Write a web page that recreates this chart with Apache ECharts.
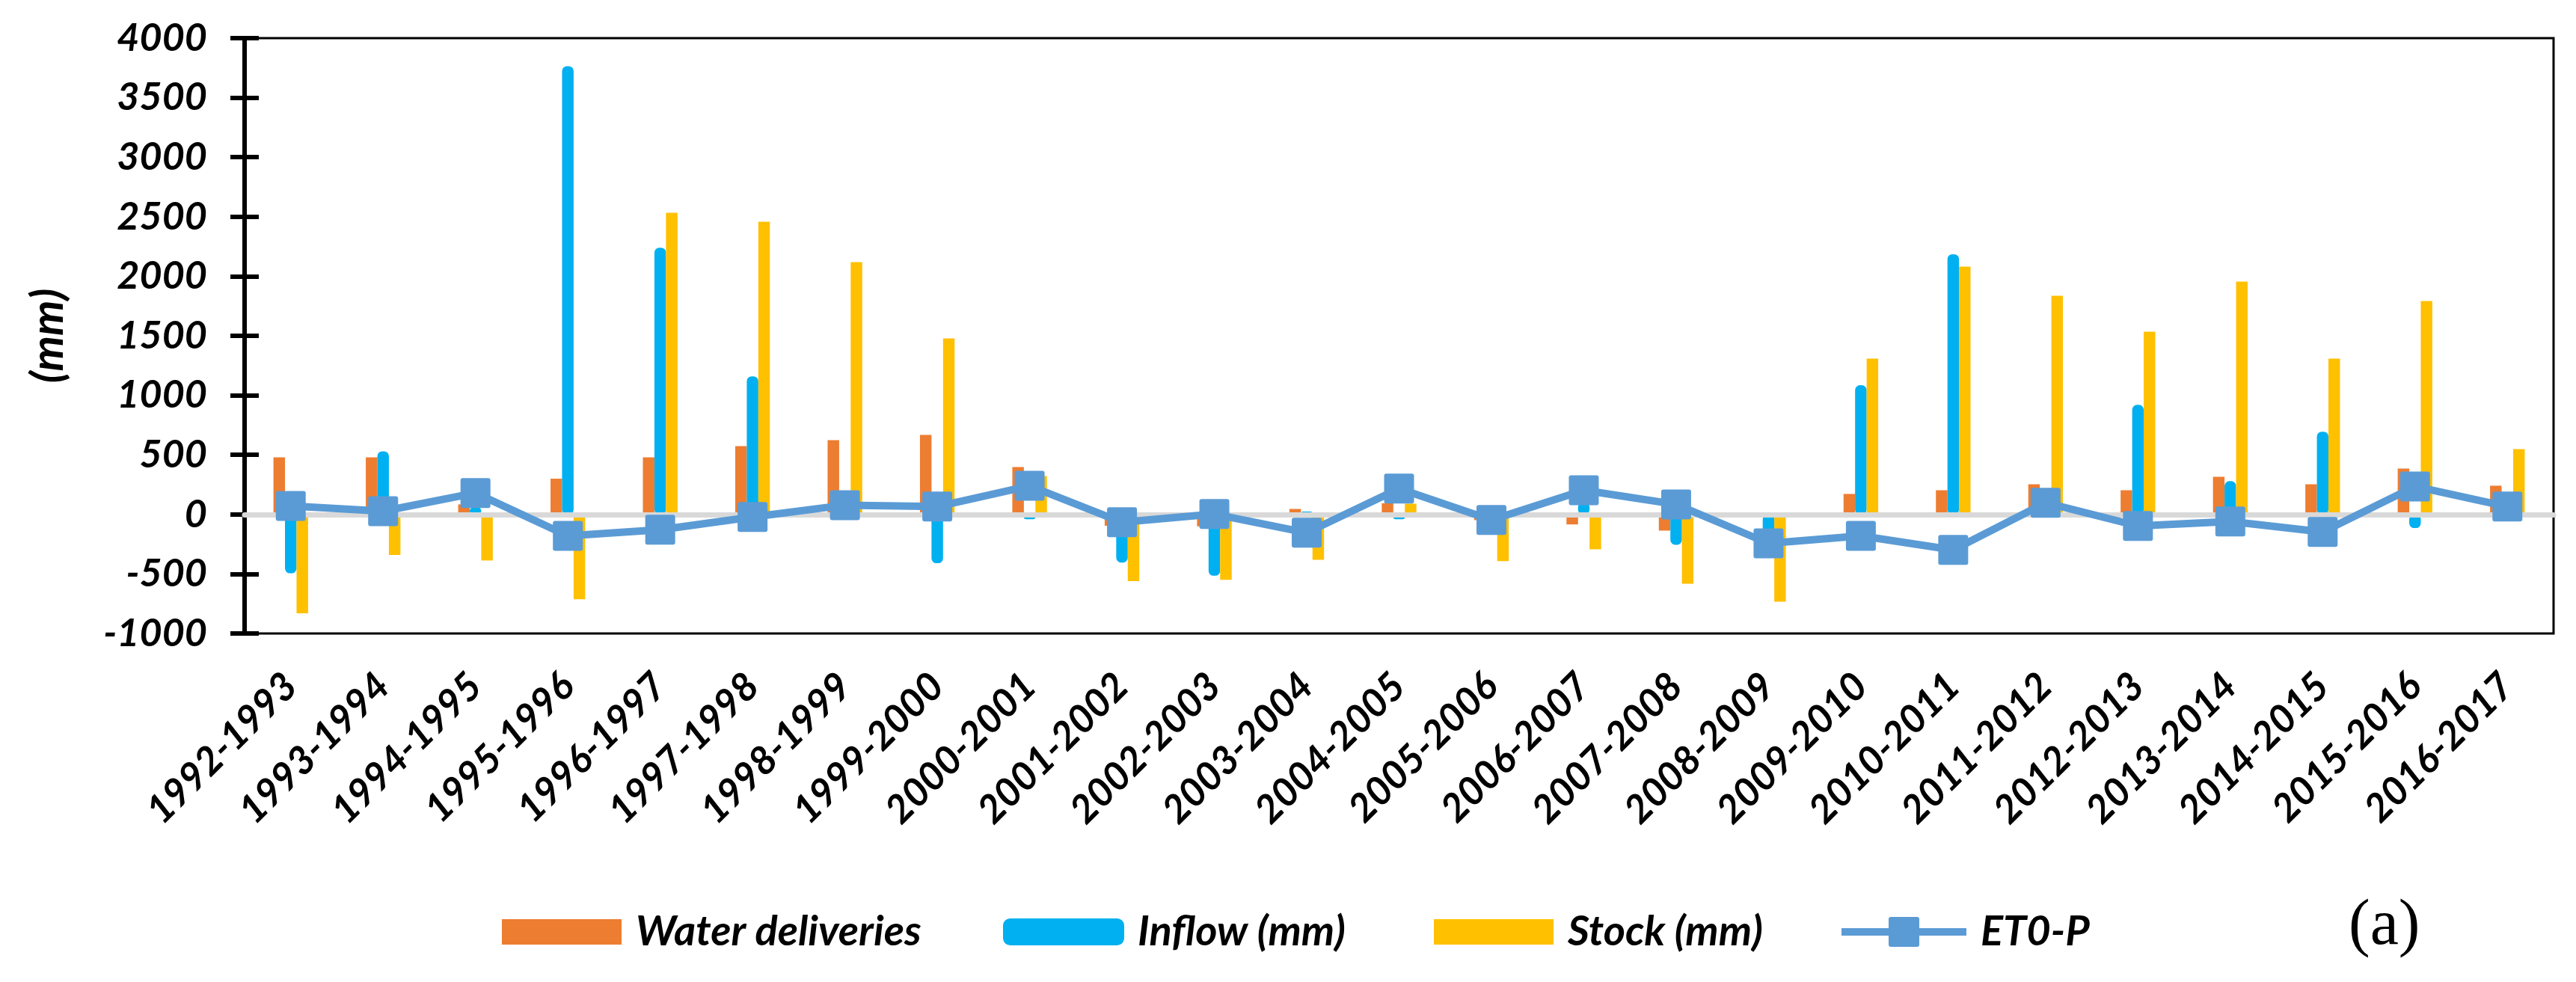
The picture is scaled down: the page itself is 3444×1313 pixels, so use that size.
<!DOCTYPE html>
<html>
<head>
<meta charset="utf-8">
<script src="https://cdn.jsdelivr.net/npm/echarts@6/dist/echarts.min.js"></script>
<style>
html,body{margin:0;padding:0;background:#fff;}
#chart{width:3444px;height:1313px;}
</style>
</head>
<body>
<div id="chart"></div>
<script>
const categories = ['1992-1993','1993-1994','1994-1995','1995-1996','1996-1997','1997-1998','1998-1999','1999-2000','2000-2001','2001-2002','2002-2003','2003-2004','2004-2005','2005-2006','2006-2007','2007-2008','2008-2009','2009-2010','2010-2011','2011-2012','2012-2013','2013-2014','2014-2015','2015-2016','2016-2017'];
const waterDeliveries = [480, 480, 84, 300, 480, 574, 624, 668, 398, -95, -100, 46, 94, -48, -84, -136, 15, 172, 203, 253, 203, 316, 253, 385, 241];
const inflow = [-495, 530, 60, 3765, 2240, 1160, 30, -410, -40, -405, -515, 15, -40, -40, 100, -255, -250, 1085, 2185, -10, 920, 280, 695, -115, 30];
const stock = [-831, -341, -387, -712, 2533, 2458, 2119, 1478, 322, -561, -549, -381, 90, -392, -293, -582, -733, 1309, 2081, 1836, 1535, 1956, 1309, 1792, 549];
const et0p = [71, 27, 180, -180, -128, -22, 78, 66, 240, -66, 3, -154, 217, -47, 203, 84, -243, -180, -298, 98, -97, -59, -147, 235, 66];
const yMin = -1000, yMax = 4000, yStep = 500;

const FONT = 'Lato';
const labelFont = {fontFamily: FONT, fontWeight: 'bold', fontStyle: 'italic', color: '#000'};
const chart = echarts.init(document.getElementById('chart'), null, {renderer: 'canvas'});
const markerPath = 'path://M3,0H37Q40,0 40,3V37Q40,40 37,40H3Q0,40 0,37V3Q0,0 3,0Z';
const legendIconLine = 'path://M0,15H167V25H0Z M64,0H101Q104,0 104,3V37Q104,40 101,40H66Q63,40 63,37V3Q63,0 66,0Z';

function legendBox(left, item, w, h) {
  return {
    left: left, top: 1213,
    itemWidth: w, itemHeight: h, itemGap: 0,
    textStyle: Object.assign({fontSize: 56, lineHeight: 40, padding: [0, 0, 0, 14]}, labelFont),
    data: [item]
  };
}

chart.setOption({
  animation: false,
  backgroundColor: '#fff',
  grid: {left: 327, right: 30, top: 51, bottom: 466, show: true, borderColor: '#000', borderWidth: 3, backgroundColor: 'transparent'},
  legend: [
    legendBox(666, {name: 'Water deliveries', icon: 'rect'}, 160, 34),
    legendBox(1336, {name: 'Inflow (mm)', icon: 'roundRect'}, 160, 34),
    legendBox(1912, {name: 'Stock (mm)', icon: 'rect'}, 160, 34),
    legendBox(2457, {name: 'ET0-P', icon: legendIconLine}, 167, 40)
  ],
  xAxis: [{
    type: 'category', data: categories, position: 'bottom',
    axisLine: {show: false, onZero: false},
    axisTick: {show: false},
    axisLabel: Object.assign({rotate: 45, margin: 62, interval: 0, fontSize: 52}, labelFont),
    splitLine: {show: false}
  }, {
    type: 'category', data: categories, position: 'bottom', z: 3,
    axisLine: {show: true, onZero: true, lineStyle: {color: '#D9D9D9', width: 7}},
    axisTick: {show: false}, axisLabel: {show: false}, splitLine: {show: false}
  }],
  yAxis: [{
    type: 'value', min: yMin, max: yMax, interval: yStep, position: 'left',
    name: '(mm)', nameLocation: 'middle', nameRotate: 90, nameGap: 232,
    nameTextStyle: Object.assign({fontSize: 60}, labelFont),
    axisLine: {show: true, lineStyle: {color: '#000', width: 6}},
    axisTick: {show: true, length: 19, lineStyle: {color: '#000', width: 6}},
    axisLabel: Object.assign({margin: 50, fontSize: 52, formatter: v => String(v)}, labelFont),
    splitLine: {show: false}
  }, {
    type: 'value', min: yMin, max: yMax, interval: yStep, position: 'left',
    axisLine: {show: false},
    axisTick: {show: true, inside: true, length: 19, lineStyle: {color: '#000', width: 6}},
    axisLabel: {show: false}, splitLine: {show: false}
  }],
  series: [{
    name: 'Water deliveries', type: 'bar', data: waterDeliveries,
    barWidth: '12.5%', barGap: '0%',
    itemStyle: {color: '#ED7D31'}
  }, {
    name: 'Inflow (mm)', type: 'bar', data: inflow,
    barWidth: '12.5%', barGap: '0%',
    itemStyle: {color: '#00B0F0', borderColor: '#00B0F0', borderWidth: 5, borderRadius: 4}
  }, {
    name: 'Stock (mm)', type: 'bar', data: stock,
    barWidth: '12.5%', barGap: '0%',
    itemStyle: {color: '#FFC000'}
  }, {
    name: 'ET0-P', type: 'line', data: et0p, z: 5,
    symbol: markerPath, symbolSize: 40,
    lineStyle: {color: '#5B9BD5', width: 10},
    itemStyle: {color: '#5B9BD5'}
  }],
  graphic: [{
    type: 'text', left: 3140, top: 1196,
    style: {text: '(a)', fontFamily: 'Liberation Serif', fontSize: 86, fill: '#000'}
  }]
});
</script>
</body>
</html>
